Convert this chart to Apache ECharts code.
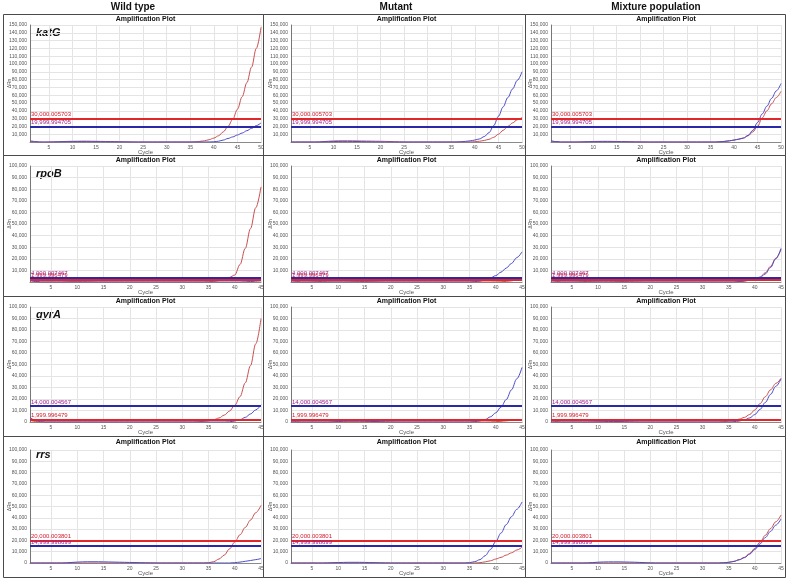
<!DOCTYPE html>
<html><head><meta charset="utf-8">
<script src="https://cdn.jsdelivr.net/npm/echarts@6/dist/echarts.min.js"></script>
<style>html,body{margin:0;padding:0;background:#fff}#c{width:787px;height:581px}</style>
</head><body><div id="c"></div>
<script>
const columnTitles = ['Wild type', 'Mutant', 'Mixture population'];
const genes = ['katG', 'rpoB', 'gyrA', 'rrs'];
const panelTitle = 'Amplification Plot';
const cycles50 = [1,2,3,4,5,6,7,8,9,10,11,12,13,14,15,16,17,18,19,20,21,22,23,24,25,26,27,28,29,30,31,32,33,34,35,36,37,38,39,40,41,42,43,44,45,46,47,48,49,50];
const cycles45 = [1,2,3,4,5,6,7,8,9,10,11,12,13,14,15,16,17,18,19,20,21,22,23,24,25,26,27,28,29,30,31,32,33,34,35,36,37,38,39,40,41,42,43,44,45];
const xTicks50 = [5,10,15,20,25,30,35,40,45,50];
const xTicks45 = [5,10,15,20,25,30,35,40,45];
const yMaxByRow = [150000, 100000, 100000, 100000];
const thresholdRed = [30000.005703, 1999.996479, 1999.996479, 20000.003801];
const thresholdBlue = [19999.994705, 4000.007467, 14000.004567, 14999.998699];

// katG (cycles 1-50)
const katG_wt_red = [1800,700,0,-200,0,200,400,600,800,900, 1000,1100,1100,1000,900,800,700,600,500,400, 300,200,100,0,0,0,0,0,0,0, 0,0,0,0,0,200,800,1500,3000,5000, 8000,13000,20000,29000,42000,58000,76000,96000,120000,147000];
const katG_wt_blue = [600,300,0,0,0,100,200,300,400,500, 500,500,500,400,400,300,300,200,200,100, 100,0,0,0,0,0,0,0,0,0, 0,0,0,0,0,0,0,0,100,300, 1000,2500,4500,6500,9000,11500,14500,17500,21000,24500];
const katG_mut_red = [0,0,0,0,0,0,200,600,1000,1300, 1500,1500,1500,1500,1400,1300,1200,1100,1000,900, 800,600,400,200,0,0,0,0,0,0, 0,0,0,0,0,0,0,0,100,300, 1000,2000,3500,6000,10000,15000,20000,24500,28500,31500];
const katG_mut_blue = [0,0,0,0,0,0,0,200,400,600, 700,800,800,700,600,500,400,300,200,100, 0,0,0,0,0,0,0,0,0,0, 0,0,0,0,0,0,300,800,1500,2500, 4000,7000,12000,21000,33000,45000,57000,68000,79000,90000];
const katG_mix_red = [1200,500,0,0,0,0,100,300,500,700, 800,900,900,800,700,600,500,400,300,200, 100,0,0,0,0,0,0,0,0,0, 0,0,0,0,0,0,300,800,1500,2500, 3800,5200,8000,13000,20000,31000,40000,49000,57000,65000];
const katG_mix_blue = [1500,600,0,0,0,0,0,100,200,300, 400,400,400,300,300,200,200,100,0,0, 0,0,0,0,0,0,0,0,0,0, 0,0,0,0,0,0,300,800,1500,2500, 3500,5000,8500,15000,25000,36000,46000,56000,65500,75000];

// rpoB (cycles 1-45)
const rpoB_wt_red = [2000,800,0,0,0,0,0,200,300,300, 300,200,100,0,0,0,0,0,0,0, 0,0,0,0,0,0,0,0,0,0, 0,0,0,0,200,500,1200,2500,4000,6000, 15000,29000,46000,64000,82000];
const rpoB_wt_blue = [1200,400,0,0,0,0,0,0,0,0, 0,0,0,0,0,0,0,0,0,0, 0,0,0,0,0,0,0,0,0,0, 0,0,0,0,0,0,0,0,0,0, 0,200,400,700,1000];
const rpoB_mut_red = [1500,500,0,0,100,300,500,700,800,800, 800,700,600,500,400,300,200,100,0,0, 0,0,0,0,0,0,0,0,0,0, 0,0,0,0,0,0,0,0,0,100, 200,500,1000,1800,2800];
const rpoB_mut_blue = [0,0,0,0,0,0,0,0,0,0, 0,0,0,0,0,0,0,0,0,0, 0,0,0,0,0,0,0,0,0,0, 0,0,0,0,0,300,800,1800,3500,5500, 8500,12000,16000,21000,26000];
const rpoB_mix_red = [1500,600,0,0,0,100,300,500,600,700, 700,700,600,500,400,300,200,100,0,0, 0,0,0,0,0,0,0,0,0,0, 0,0,0,0,0,0,400,900,1700,2800, 4300,8000,13500,20500,28000];
const rpoB_mix_blue = [0,0,0,0,0,0,0,0,0,0, 0,0,0,0,0,0,0,0,0,0, 0,0,0,0,0,0,0,0,0,0, 0,0,0,0,0,0,300,800,1500,2500, 3800,7000,12500,20000,29000];

// gyrA (cycles 1-45)
const gyrA_wt_red = [1500,500,0,0,0,0,0,0,0,0, 0,0,0,0,0,0,0,0,0,0, 0,0,0,0,0,0,0,0,0,0, 0,0,200,500,1000,2000,3500,6000,9500,14500, 22000,34000,49000,68000,90000];
const gyrA_wt_blue = [4000,1500,300,0,0,0,0,0,0,0, 0,0,0,0,0,0,0,0,0,0, 0,0,0,0,0,0,0,0,0,0, 0,0,0,0,0,0,0,0,200,800, 2000,4000,7000,10500,15000];
const gyrA_mut_red = [1000,300,0,0,0,0,0,0,0,0, 0,0,0,0,0,0,0,0,0,0, 0,0,0,0,0,0,0,0,0,0, 0,0,0,0,0,0,0,0,100,300, 600,1000,1400,1800,2200];
const gyrA_mut_blue = [0,0,0,0,0,0,0,0,200,400, 600,700,700,700,600,500,400,300,200,100, 0,0,0,0,0,0,0,0,0,0, 0,0,0,0,0,300,1000,2200,4500,8000, 13000,19500,28000,37500,47500];
const gyrA_mix_red = [1200,400,0,0,0,0,0,0,0,0, 0,0,0,0,0,0,0,0,0,0, 0,0,0,0,0,0,0,0,0,0, 0,0,0,300,800,1500,2500,4000,6500,10500, 16000,22000,28000,33500,38000];
const gyrA_mix_blue = [0,0,0,0,0,0,0,0,100,200, 300,400,400,400,300,200,100,0,0,0, 0,0,0,0,0,0,0,0,0,0, 0,0,0,0,0,300,800,1800,3500,6500, 11000,17000,24000,31000,37500];

// rrs (cycles 1-45)
const rrs_wt_red = [0,0,0,0,0,0,0,0,0,0, 0,0,0,0,0,0,0,0,0,0, 0,0,0,0,0,0,0,0,0,0, 0,0,0,0,200,1200,3500,7000,12500,18500, 25000,31500,38000,44500,51000];
const rrs_wt_blue = [0,0,0,0,0,0,0,200,500,800, 1000,1100,1100,1100,1000,900,800,700,600,500, 400,300,200,100,0,0,0,0,0,0, 0,0,0,0,0,0,0,0,0,300, 800,1500,2200,3000,4000];
const rrs_mut_red = [0,0,0,0,0,0,0,0,0,0, 0,0,0,0,0,0,0,0,0,0, 0,0,0,0,0,0,0,0,0,0, 0,0,0,0,0,0,300,1000,2000,3500, 5000,7000,9000,11500,14000];
const rrs_mut_blue = [0,0,0,0,0,0,0,100,300,400, 500,600,600,600,500,400,300,200,100,0, 0,0,0,0,0,0,0,0,0,0, 0,0,0,0,300,1200,3000,6500,12000,19000, 26500,34000,41000,47500,54000];
const rrs_mix_red = [0,0,0,0,0,0,0,0,0,0, 0,0,0,0,0,0,0,0,0,0, 0,0,0,0,0,0,0,0,0,0, 0,0,0,200,600,1500,3000,5000,8500,13000, 18500,24500,30500,36500,42500];
const rrs_mix_blue = [0,0,0,0,0,0,0,100,400,700, 900,1000,1000,1000,900,800,700,500,300,100, 0,0,0,0,0,0,0,0,0,0, 0,0,0,200,600,1400,2800,4700,7800,12000, 17000,22500,28000,33500,39000];

const panels = [
  [[katG_wt_red, katG_wt_blue], [katG_mut_red, katG_mut_blue], [katG_mix_red, katG_mix_blue]],
  [[rpoB_wt_red, rpoB_wt_blue], [rpoB_mut_red, rpoB_mut_blue], [rpoB_mix_red, rpoB_mix_blue]],
  [[gyrA_wt_red, gyrA_wt_blue], [gyrA_mut_red, gyrA_mut_blue], [gyrA_mix_red, gyrA_mix_blue]],
  [[rrs_wt_red, rrs_wt_blue], [rrs_mut_red, rrs_mut_blue], [rrs_mix_red, rrs_mix_blue]]
];
const cyclesByRow = [cycles50, cycles45, cycles45, cycles45];
const xTicksByRow = [xTicks50, xTicks45, xTicks45, xTicks45];

// layout (pixels)
const plotLeft = [30, 291, 551], plotRight = [261, 522, 781];
const plotTop = [25, 166, 307, 450], plotBottom = [142, 282, 422, 563];
const panelX = [3, 263, 525, 785];
const panelY = [14, 155, 296, 436, 577];
const titleY = [19, 160.5, 301, 442];
const geneY = [33, 173.5, 315, 454.5];

const FONT = '"Liberation Sans", Arial, sans-serif';
const RED_CURVE = '#c8504f', BLUE_CURVE = '#4c4cc8';
const RED_THR = '#e3262a', BLUE_THR = '#2a2aa8';

function fmtThr(v) {
  return v.toLocaleString('en-US', {minimumFractionDigits: 6, maximumFractionDigits: 6});
}
function fmtY(v, hideZero) {
  if (v === 0 && hideZero) return '';
  return v.toLocaleString('en-US');
}

const grids = [], xAxes = [], yAxes = [], series = [], graphics = [];
for (let r = 0; r < 4; r++) {
  for (let c = 0; c < 3; c++) {
    const i = r * 3 + c;
    grids.push({left: plotLeft[c], top: plotTop[r], width: plotRight[c] - plotLeft[c], height: plotBottom[r] - plotTop[r], containLabel: false, outerBoundsMode: 'none'});
    const cyc = cyclesByRow[r];
    xAxes.push({
      gridIndex: i, type: 'value', min: 1, max: cyc[cyc.length - 1],
      axisLine: {show: true, lineStyle: {color: '#8a8a8a', width: 1}},
      axisTick: {show: false, customValues: xTicksByRow[r]},
      axisLabel: {customValues: xTicksByRow[r], fontSize: 5, color: '#555', margin: 3, fontFamily: FONT},
      splitLine: {show: true, lineStyle: {color: '#e4e4e4', width: 1}},
      name: 'Cycle', nameLocation: 'middle', nameGap: 7, nameMoveOverlap: false,
      nameTextStyle: {fontSize: 6, color: '#555', fontFamily: FONT}
    });
    const hideZero = r < 2;
    yAxes.push({
      gridIndex: i, type: 'value', min: 0, max: yMaxByRow[r], interval: 10000,
      axisLine: {show: true, lineStyle: {color: '#777', width: 1}},
      axisTick: {show: false},
      axisLabel: {fontSize: 5, color: '#555', margin: 3, fontFamily: FONT, formatter: v => fmtY(v, hideZero), showMinLabel: true, showMaxLabel: true},
      splitLine: {show: true, lineStyle: {color: '#e4e4e4', width: 1}},
      name: 'ΔRn', nameLocation: 'middle', nameGap: 18, nameRotate: 90, nameMoveOverlap: false,
      nameTextStyle: {fontSize: 5, color: '#555', fontFamily: FONT}
    });
    const [red, blue] = panels[r][c];
    series.push({
      type: 'line', xAxisIndex: i, yAxisIndex: i, showSymbol: false, smooth: 0.35, smoothMonotone: 'x',
      data: cyc.map((x, k) => [x, red[k]]), lineStyle: {color: RED_CURVE, width: 1}, itemStyle: {color: RED_CURVE}, z: 3,
      markLine: {silent: true, symbol: 'none', animation: false,
        lineStyle: {color: RED_THR, width: 2, type: 'solid'},
        label: {show: true, position: 'insideStartTop', formatter: fmtThr(thresholdRed[r]), fontSize: 6, color: '#d21a2a', fontFamily: FONT, distance: 1, padding: 0},
        data: [{yAxis: thresholdRed[r]}]}
    });
    series.push({
      type: 'line', xAxisIndex: i, yAxisIndex: i, showSymbol: false, smooth: 0.35, smoothMonotone: 'x',
      data: cyc.map((x, k) => [x, blue[k]]), lineStyle: {color: BLUE_CURVE, width: 1}, itemStyle: {color: BLUE_CURVE}, z: 3,
      markLine: {silent: true, symbol: 'none', animation: false,
        lineStyle: {color: BLUE_THR, width: 2, type: 'solid'},
        label: {show: true, position: 'insideStartTop', formatter: fmtThr(thresholdBlue[r]), fontSize: 6, color: '#a0208a', fontFamily: FONT, distance: 1, padding: 0},
        data: [{yAxis: thresholdBlue[r]}]}
    });
    graphics.push({type: 'rect', shape: {x: panelX[c] + 0.5, y: panelY[r] + 0.5, width: panelX[c + 1] - panelX[c], height: panelY[r + 1] - panelY[r]},
      style: {fill: 'none', stroke: '#4a4a4a', lineWidth: 1}, silent: true});
    graphics.push({type: 'text', x: (plotLeft[c] + plotRight[c]) / 2, y: titleY[r],
      style: {text: panelTitle, font: 'bold 7px ' + FONT, fill: '#111', textAlign: 'center', textVerticalAlign: 'middle'}, silent: true});
  }
  graphics.push({type: 'text', x: 36, y: geneY[r],
    style: {text: genes[r], font: 'italic bold 11px ' + FONT, fill: '#111', textAlign: 'left', textVerticalAlign: 'middle'}, silent: true});
}
const headerX = [133, 396, 656];
for (let c = 0; c < 3; c++) {
  graphics.push({type: 'text', x: headerX[c], y: 7,
    style: {text: columnTitles[c], font: 'bold 10px ' + FONT, fill: '#111', textAlign: 'center', textVerticalAlign: 'middle'}, silent: true});
}

const chart = echarts.init(document.getElementById('c'), null, {renderer: 'canvas'});
chart.setOption({
  animation: false,
  backgroundColor: '#fff',
  grid: grids, xAxis: xAxes, yAxis: yAxes, series: series,
  graphic: graphics
});
</script>
</body></html>
